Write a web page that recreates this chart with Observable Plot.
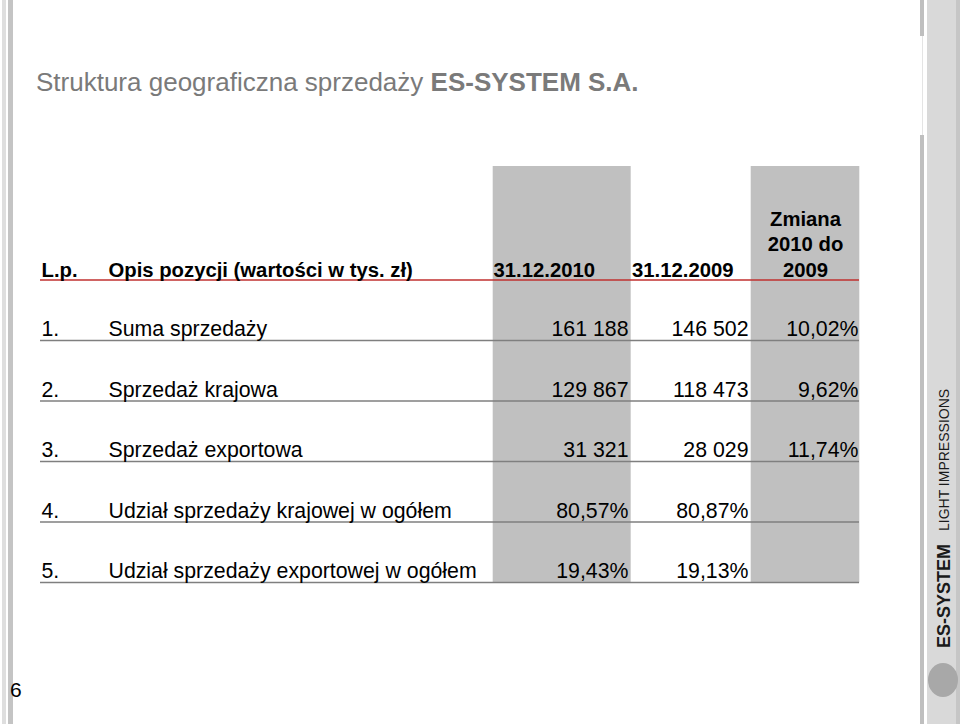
<!DOCTYPE html>
<html>
<head>
<meta charset="utf-8">
<script src="https://cdn.jsdelivr.net/npm/d3@7"></script>
<script src="https://cdn.jsdelivr.net/npm/@observablehq/plot@0.6"></script>
<style>
  html, body { margin: 0; padding: 0; background: #fff; }
  #page { position: relative; width: 960px; height: 724px; overflow: hidden; font-family: "Liberation Sans", Arial, Helvetica, sans-serif; }
  #page svg { position: absolute; left: 0; top: 0; }
  .deco { position: absolute; }
  #title { position: absolute; left: 36px; top: 67px; font-size: 26px; color: #7a7a7a; white-space: nowrap; }
  #title b { font-weight: bold; }
  #pnum { position: absolute; left: 10px; top: 678px; font-size: 21px; color: #000; }
  .vtext { position: absolute; white-space: nowrap; transform-origin: 0 0; transform: rotate(-90deg); }
</style>
</head>
<body>
<div id="page">
  <div class="deco" style="left:2px;top:0;width:4px;height:724px;background:#dedede"></div>
  <div class="deco" style="left:8px;top:0;width:5px;height:724px;background:#c4c4c4"></div>
  <div class="deco" style="left:920px;top:0;width:4px;height:36px;background:#bfbfbf"></div>
  <div class="deco" style="left:922px;top:36px;width:1px;height:99px;background:#e4e4e4"></div>
  <div class="deco" style="left:920px;top:135px;width:4px;height:589px;background:#bfbfbf"></div>
  <div class="deco" style="left:927px;top:0;width:29px;height:724px;background:#d9d9d9"></div>
  <div class="deco" style="left:956px;top:0;width:4px;height:724px;background:#c6c6c6"></div>
  <div class="deco" style="left:928px;top:663px;width:30px;height:34px;border-radius:50%;background:#a8a8a8"></div>
  <div class="vtext" style="left:934px;top:648px;font-size:18px;font-weight:bold;color:#1a1a1a">ES-SYSTEM</div>
  <div class="vtext" style="left:936px;top:531px;font-size:14px;color:#1a1a1a">LIGHT IMPRESSIONS</div>
  <div id="title">Struktura geograficzna sprzedaży <b>ES-SYSTEM S.A.</b></div>
  <div id="pnum">6</div>
</div>
<script>
// ---- data ----
const lp = ["1.", "2.", "3.", "4.", "5."];
const opis = [
  "Suma sprzedaży",
  "Sprzedaż krajowa",
  "Sprzedaż exportowa",
  "Udział sprzedaży krajowej w ogółem",
  "Udział sprzedaży exportowej w ogółem"
];
const units = ["tys", "tys", "tys", "%", "%"];
const v2010 = [161188, 129867, 31321, 80.57, 19.43];
const v2009 = [146502, 118473, 28029, 80.87, 19.13];
const zmiana = [10.02, 9.62, 11.74, null, null];
const headerLabels = ["L.p.", "Opis pozycji (wartości w tys. zł)", "31.12.2010", "31.12.2009", "Zmiana\n2010 do\n2009"];
const shadedColumns = ["c2010", "zmiana"];

// ---- layout ----
const L = {
  left: 40, right: 859,
  headerLine: 279.5, rowStep: 60.5,
  shadeTop: 166, shadeBottom: 582.5,
  cols: {
    lp: {x: 41},
    opis: {x: 108},
    c2010: {x1: 492.7, x2: 630.7, x: 628, hx: 493},
    c2009: {x: 748, hx: 631.5},
    zmiana: {x1: 750.7, x2: 859.3, x: 858, hx: 805}
  }
};
const rowLine = i => L.headerLine + L.rowStep * (i + 1);
const headerX = [L.cols.lp.x, L.cols.opis.x, L.cols.c2010.hx, L.cols.c2009.hx, L.cols.zmiana.hx];

const fmtInt = n => d3.format(",d")(n).replace(/,/g, " ");
const fmtPct = n => n.toFixed(2).replace(".", ",") + "%";
const fmt = (v, u) => v == null ? "" : (u === "%" ? fmtPct(v) : fmtInt(v));

const rows = lp.map((p, i) => ({
  i, lp: p, opis: opis[i],
  a: fmt(v2010[i], units[i]),
  b: fmt(v2009[i], units[i]),
  c: zmiana[i] == null ? "" : fmtPct(zmiana[i])
}));

const header = headerLabels.map((t, k) => ({t, x: headerX[k], centered: k === 4}));

const font = "Liberation Sans, Arial, Helvetica, sans-serif";
const textBase = {lineAnchor: "bottom", fontFamily: font, fill: "#000"};
const rowText = {...textBase, y: d => rowLine(d.i) - 4.5, fontSize: 21.3};
const headText = {...textBase, x: "x", y: L.headerLine - 3.5, text: "t", fontSize: 20.3, fontWeight: "bold", lineHeight: 1.25};

const chart = Plot.plot({
  width: 960, height: 724, margin: 0,
  x: {type: "linear", domain: [0, 960], range: [0, 960], axis: null},
  y: {type: "linear", domain: [0, 724], range: [0, 724], axis: null},
  style: {background: "transparent", fontFamily: font},
  marks: [
    Plot.rect(shadedColumns, {
      x1: d => L.cols[d].x1, x2: d => L.cols[d].x2,
      y1: L.shadeTop, y2: L.shadeBottom, fill: "#c0c0c0"
    }),
    Plot.ruleY(rows, {y: d => rowLine(d.i), x1: L.left, x2: L.right, stroke: "#7f7f7f", strokeWidth: 1.6}),
    Plot.ruleY([L.headerLine], {x1: L.left, x2: L.right, stroke: "#c0302f", strokeWidth: 1.3}),
    Plot.text(header.filter(d => !d.centered), {...headText, textAnchor: "start"}),
    Plot.text(header.filter(d => d.centered), {...headText, textAnchor: "middle"}),
    Plot.text(rows, {...rowText, x: L.cols.lp.x, text: "lp", textAnchor: "start"}),
    Plot.text(rows, {...rowText, x: L.cols.opis.x, text: "opis", textAnchor: "start"}),
    Plot.text(rows, {...rowText, x: L.cols.c2010.x, text: "a", textAnchor: "end"}),
    Plot.text(rows, {...rowText, x: L.cols.c2009.x, text: "b", textAnchor: "end"}),
    Plot.text(rows, {...rowText, x: L.cols.zmiana.x, text: "c", textAnchor: "end"})
  ]
});
document.getElementById("page").appendChild(chart);
</script>
</body>
</html>
